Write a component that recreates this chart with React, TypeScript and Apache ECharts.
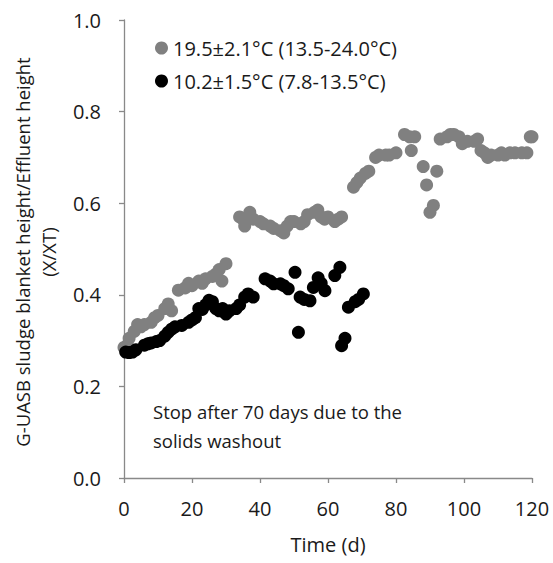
import React, { useEffect, useRef } from "react";
import * as echarts from "echarts";

// Day, ratio pairs for the warmer run (whole 120 days)
const warmLabel = "19.5±2.1°C (13.5-24.0°C)";
const warmPoints: [number, number][] = [
  [0, 0.285], [1, 0.29], [1.5, 0.305], [3, 0.32], [4, 0.335], [5, 0.33], [6, 0.335],
  [8, 0.34], [9, 0.35], [10, 0.355], [12, 0.37], [13, 0.38], [14, 0.365], [16, 0.41],
  [18, 0.415], [19, 0.425], [20, 0.42], [22, 0.43], [23, 0.425], [24, 0.435], [26, 0.44],
  [27, 0.445], [28, 0.455], [28.8, 0.43], [30, 0.468],
  [34, 0.57], [35, 0.565], [35.5, 0.55], [37, 0.58], [38, 0.565], [40, 0.56], [41, 0.555],
  [43, 0.55], [44, 0.545], [46, 0.54], [47, 0.535], [48, 0.55], [49, 0.56], [50, 0.56],
  [52, 0.555], [53, 0.56], [54, 0.575], [56, 0.58], [57, 0.585], [58, 0.57], [59, 0.565],
  [60, 0.57], [62, 0.56], [63, 0.565], [64, 0.57],
  [67.5, 0.635], [68.5, 0.645], [69.5, 0.655], [71, 0.665], [72, 0.67], [74, 0.7],
  [75, 0.705], [77, 0.705], [78, 0.705], [80, 0.71], [82.5, 0.75], [84, 0.745],
  [84.5, 0.715], [85.5, 0.745], [88, 0.68], [89, 0.64], [90, 0.58], [91, 0.595],
  [92, 0.67], [93, 0.74], [95, 0.745], [96, 0.75], [97, 0.75], [98.5, 0.745], [99.5, 0.73],
  [101, 0.735], [103, 0.735], [104, 0.74], [105, 0.715], [106, 0.71], [107, 0.7],
  [108, 0.705], [110, 0.705], [111, 0.71], [112, 0.705], [113.5, 0.71], [115, 0.71],
  [117, 0.71], [118.5, 0.71], [119.5, 0.745], [120, 0.745],
];

// Day, ratio pairs for the colder run (stopped at day 70)
const coldLabel = "10.2±1.5°C (7.8-13.5°C)";
const coldPoints: [number, number][] = [
  [0.5, 0.275], [1.5, 0.274], [2.5, 0.275], [3.5, 0.28], [6, 0.29], [7, 0.293], [8, 0.295],
  [9.5, 0.298], [10.5, 0.3], [12, 0.31], [13, 0.318], [14, 0.325], [15, 0.33], [17, 0.333],
  [19, 0.34], [20, 0.345], [21, 0.35], [22, 0.37], [23, 0.368], [24, 0.378], [25, 0.388],
  [26, 0.385], [27, 0.37], [28, 0.365], [29, 0.37], [30, 0.358], [31, 0.365], [33, 0.37],
  [34, 0.378], [35.5, 0.395], [36.5, 0.402], [38, 0.395], [41.5, 0.435], [43, 0.43],
  [44, 0.424], [46, 0.424], [47, 0.42], [48.3, 0.413], [50.3, 0.449], [51.3, 0.318],
  [51.8, 0.395], [53, 0.39], [54.7, 0.387], [55.7, 0.416], [57.1, 0.437], [58, 0.425],
  [59.1, 0.409], [62, 0.442], [63.5, 0.46], [64, 0.289], [65, 0.305], [66, 0.373],
  [68, 0.385], [69, 0.39], [70.4, 0.402],
];

const xTitle = "Time (d)";
const yTitleLines = ["G-UASB sludge blanket height/Effluent height", "(X/XT)"];
const noteLines = ["Stop after 70 days due to the", "solids washout"];

const FONT = "'Open Sans', 'Noto Sans', sans-serif";
const FS = 20;
const FS_WORDS = 18.5;
const AXIS_GREY = "#898989";
const TEXT = "#1a1a1a";

export default function App() {
  const ref = useRef<HTMLDivElement>(null);

  useEffect(() => {
    document.body.style.margin = "0";
    if (!ref.current) return;
    const chart = echarts.init(ref.current, undefined, { renderer: "svg" });

    chart.setOption({
      animation: false,
      backgroundColor: "#ffffff",
      textStyle: { fontFamily: FONT },
      grid: { left: 124, right: 21, top: 20, bottom: 85 },
      legend: {
        left: 150,
        top: 32,
        orient: "vertical",
        icon: "circle",
        itemWidth: 13,
        itemHeight: 13,
        itemGap: 11,
        textStyle: { fontFamily: FONT, fontSize: FS, color: TEXT, lineHeight: 22 },
        data: [warmLabel, coldLabel],
      },
      xAxis: {
        type: "value",
        min: 0,
        max: 120,
        interval: 20,
        name: xTitle,
        nameLocation: "middle",
        nameGap: 56,
        nameTextStyle: { fontFamily: FONT, fontSize: FS, color: TEXT },
        axisLine: { show: true, lineStyle: { color: AXIS_GREY, width: 1.3 } },
        axisTick: { show: true, inside: false, length: 5, lineStyle: { color: AXIS_GREY, width: 1.3 } },
        axisLabel: { fontFamily: FONT, fontSize: FS, color: TEXT, margin: 20 },
        splitLine: { show: false },
      },
      yAxis: {
        type: "value",
        min: 0,
        max: 1,
        interval: 0.2,
        axisLine: { show: true, lineStyle: { color: AXIS_GREY, width: 1.3 } },
        axisTick: { show: true, inside: false, length: 5, lineStyle: { color: AXIS_GREY, width: 1.3 } },
        axisLabel: {
          fontFamily: FONT,
          fontSize: FS,
          color: TEXT,
          margin: 23,
          formatter: (v: number) => v.toFixed(1),
        },
        splitLine: { show: false },
      },
      graphic: [
        {
          type: "text",
          x: 22,
          y: 252,
          rotation: Math.PI / 2,
          style: {
            text: yTitleLines[0],
            fontFamily: FONT,
            fontSize: FS_WORDS,
            fill: TEXT,
            textAlign: "center",
            textVerticalAlign: "middle",
          },
        },
        {
          type: "text",
          x: 48,
          y: 252,
          rotation: Math.PI / 2,
          style: {
            text: yTitleLines[1],
            fontFamily: FONT,
            fontSize: FS_WORDS,
            fill: TEXT,
            textAlign: "center",
            textVerticalAlign: "middle",
          },
        },
        {
          type: "text",
          left: 153,
          top: 397,
          style: {
            text: noteLines.join("\n"),
            fontFamily: FONT,
            fontSize: FS_WORDS,
            lineHeight: 29,
            fill: TEXT,
          },
        },
      ],
      series: [
        {
          name: warmLabel,
          type: "scatter",
          data: warmPoints,
          symbol: "circle",
          symbolSize: 13,
          itemStyle: { color: "#808080", opacity: 1 },
        },
        {
          name: coldLabel,
          type: "scatter",
          data: coldPoints,
          symbol: "circle",
          symbolSize: 13,
          itemStyle: { color: "#000000", opacity: 1 },
        },
      ],
    });

    return () => chart.dispose();
  }, []);

  return <div ref={ref} style={{ width: 553, height: 563 }} />;
}
